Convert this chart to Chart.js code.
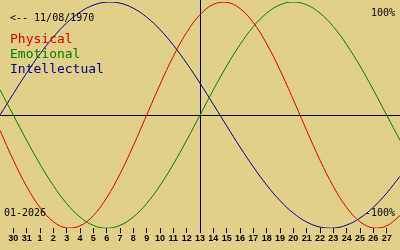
<!DOCTYPE html>
<html><head><meta charset="utf-8">
<script src="https://cdn.jsdelivr.net/npm/chart.js@4"></script>
<style>html,body{margin:0;padding:0;background:#e0d088;}#wrap{width:400px;height:250px;position:relative;overflow:hidden}</style>
</head><body><div id="wrap"><canvas id="c" width="400" height="250"></canvas></div>
<script>
// Day labels (Dec 30 2025 .. Jan 27 2026); the vertical marker sits on "13"
const dayLabels = ['30','31','1','2','3','4','5','6','7','8','9','10','11','12','13','14','15','16','17','18','19','20','21','22','23','24','25','26','27'];
const markerIndex = 14;
// Values in %, one per day, including one extra day beyond each edge (x = -1 and x = 29)
const physical = [-13.6,-39.8,-63.1,-81.7,-94.2,-99.8,-97.9,-88.8,-73.1,-52.0,-27.0,0,27.0,52.0,73.1,88.8,97.9,99.8,94.2,81.7,63.1,39.8,13.6,-13.6,-39.8,-63.1,-81.7,-94.2,-99.8,-97.9,-88.8];
const emotional = [22.3,0,-22.3,-43.4,-62.3,-78.2,-90.1,-97.5,-100,-97.5,-90.1,-78.2,-62.3,-43.4,-22.3,0,22.3,43.4,62.3,78.2,90.1,97.5,100,97.5,90.1,78.2,62.3,43.4,22.3,0,-22.3];
const intellectual = [0,18.9,37.2,54.1,69.0,81.5,91.0,97.2,99.9,99.0,94.5,86.6,75.6,61.8,45.8,28.2,9.5,-9.5,-28.2,-45.8,-61.8,-75.6,-86.6,-94.5,-99.0,-99.9,-97.2,-91.0,-81.5,-69.0,-54.1];
const seriesNames = ['Physical','Emotional','Intellectual'];
const seriesColors = ['#dd0000','#008000','#000090'];
const birthText = '<-- 11/08/1970';
const monthText = '01-2026';
const topText = '100%';
const bottomText = '-100%';

const toPts = arr => arr.map((y,i)=>({x:i-1,y}));
const mono = 'DejaVu Sans Mono, Liberation Mono, monospace';

const overlay = {
  id:'overlay',
  beforeDatasetsDraw(chart){
    const {ctx, chartArea, scales:{x,y}} = chart;
    ctx.save();
    ctx.strokeStyle = '#000';
    ctx.lineWidth = 1;
    const y0 = Math.round(y.getPixelForValue(0)) + 0.5;
    ctx.beginPath(); ctx.moveTo(0, y0); ctx.lineTo(chart.width, y0); ctx.stroke();
    const xm = Math.round(x.getPixelForValue(markerIndex)) + 0.5;
    ctx.beginPath(); ctx.moveTo(xm, 0); ctx.lineTo(xm, chartArea.bottom + 3); ctx.stroke();
    ctx.restore();
  },
  afterDatasetsDraw(chart){
    const {ctx} = chart;
    ctx.save();
    ctx.textBaseline = 'alphabetic';
    ctx.fillStyle = '#000';
    ctx.font = '10px ' + mono;
    ctx.textAlign = 'left';
    ctx.fillText(birthText, 10, 21);
    ctx.fillText(monthText, 4, 216);
    ctx.textAlign = 'right';
    ctx.fillText(topText, 395, 16);
    ctx.fillText(bottomText, 395, 216);
    ctx.textAlign = 'left';
    ctx.font = '13px ' + mono;
    seriesNames.forEach((n,i)=>{ ctx.fillStyle = seriesColors[i]; ctx.fillText(n, 10, 43 + i*15); });
    ctx.restore();
  }
};

new Chart(document.getElementById('c'), {
  type:'line',
  data:{datasets:[
    {label:seriesNames[0], data:toPts(physical), borderColor:seriesColors[0], borderWidth:1, pointRadius:0, tension:0.4, fill:false},
    {label:seriesNames[1], data:toPts(emotional), borderColor:seriesColors[1], borderWidth:1, pointRadius:0, tension:0.4, fill:false},
    {label:seriesNames[2], data:toPts(intellectual), borderColor:seriesColors[2], borderWidth:1, pointRadius:0, tension:0.4, fill:false}
  ]},
  options:{
    responsive:false, animation:false, devicePixelRatio:1,
    layout:{padding:{top:2,bottom:6,left:0,right:0}},
    plugins:{legend:{display:false}, tooltip:{enabled:false}},
    scales:{
      x:{type:'linear', min:-1, max:29,
        afterBuildTicks: s => { s.ticks = dayLabels.map((_,i)=>({value:i})); },
        ticks:{autoSkip:false, maxRotation:0, minRotation:0, padding:0, color:'#000',
          font:{family:'Liberation Sans, Arial, sans-serif', size:9, weight:'bold'},
          callback:(v)=>dayLabels[v] ?? ''},
        grid:{drawOnChartArea:false, drawTicks:true, tickLength:5, color:'#000', lineWidth:1},
        border:{display:false}},
      y:{display:false, min:-100, max:100}
    }
  },
  plugins:[overlay]
});
</script></body></html>
